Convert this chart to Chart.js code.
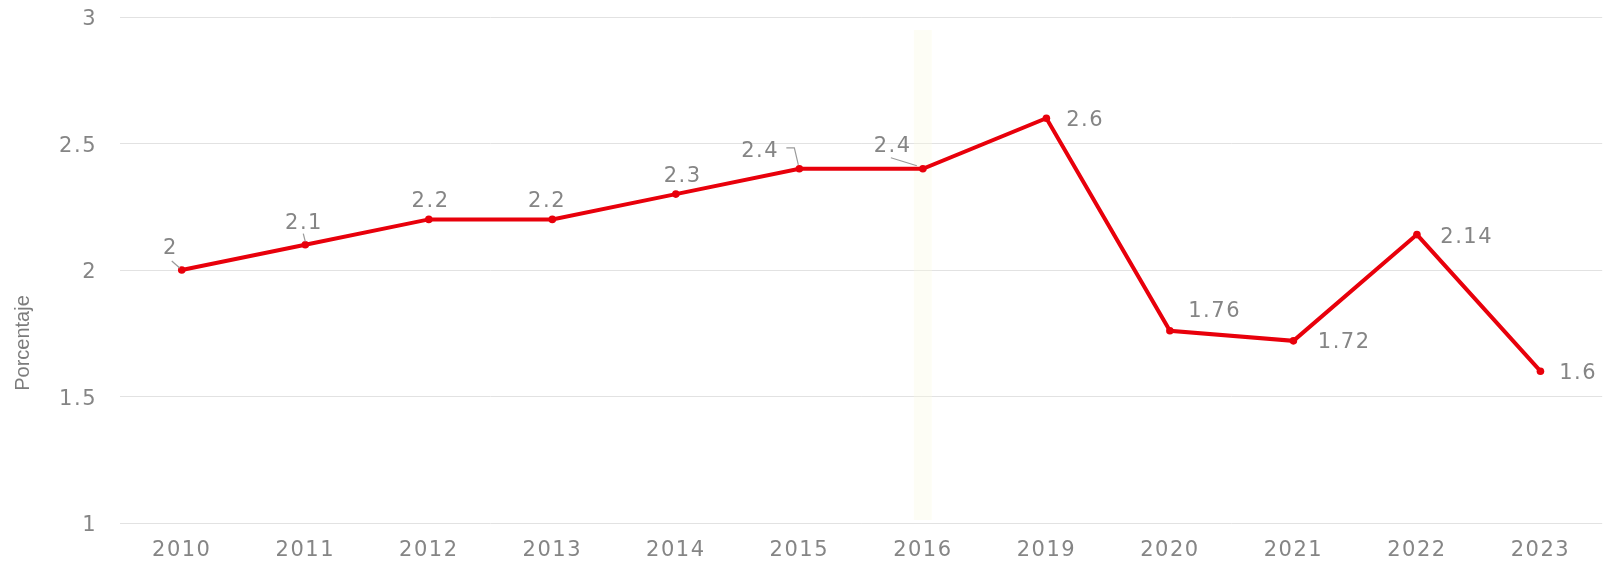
<!DOCTYPE html>
<html>
<head>
<meta charset="utf-8">
<script src="https://cdn.jsdelivr.net/npm/chart.js@4.4.1/dist/chart.umd.min.js"></script>
<style>
html,body{margin:0;padding:0;background:#fff;}
#wrap{width:1606px;height:561px;position:relative;}
</style>
</head>
<body>
<div id="wrap"><canvas id="c" width="1606" height="561"></canvas></div>
<script>
// ---- data ----
const categories = ['2010','2011','2012','2013','2014','2015','2016','2019','2020','2021','2022','2023'];
const values = [2, 2.1, 2.2, 2.2, 2.3, 2.4, 2.4, 2.6, 1.76, 1.72, 2.14, 1.6];
const yTicks = [1, 1.5, 2, 2.5, 3];
const yTitle = 'Porcentaje';

// label placement (offsets from point, in px) and leader lines
const labelPlacement = [
  {dx:-12, dy:-23, leader:[[-10,-9],[-2,-2]]},
  {dx:-2,  dy:-23, leader:[[-2,-11],[0,-3]]},
  {dx:1,   dy:-20},
  {dx:-6,  dy:-20},
  {dx:6,   dy:-20},
  {dx:-40, dy:-19, leader:[[-13,-21],[-5,-21],[-1,-4]]},
  {dx:-31, dy:-24, leader:[[-32,-11],[-6,-3]]},
  {dx:38,  dy:0},
  {dx:44,  dy:-21},
  {dx:50,  dy:0},
  {dx:49,  dy:1},
  {dx:37,  dy:0}
];

const FONT = '"DejaVu Sans", Arial, sans-serif';
const SPACING = '1.5px';
const TEXT_COLOR = '#858585';

const spacingPlugin = {
  id:'spacing',
  beforeDraw(chart){ chart.ctx.letterSpacing = SPACING; }
};

const labelPlugin = {
  id:'valueLabels',
  afterDatasetsDraw(chart){
    const ctx = chart.ctx;
    const meta = chart.getDatasetMeta(0);
    ctx.save();
    ctx.letterSpacing = SPACING;
    ctx.font = '21px ' + FONT;
    ctx.fillStyle = TEXT_COLOR;
    ctx.textAlign = 'center';
    ctx.textBaseline = 'middle';
    meta.data.forEach((pt, i) => {
      const p = labelPlacement[i];
      if (p.leader) {
        ctx.beginPath();
        ctx.strokeStyle = '#9a9a9a';
        ctx.lineWidth = 1.2;
        p.leader.forEach((q, k) => {
          const x = pt.x + q[0], y = pt.y + q[1];
          if (k === 0) ctx.moveTo(x, y); else ctx.lineTo(x, y);
        });
        ctx.stroke();
      }
      ctx.fillText(String(values[i]), pt.x + p.dx + 0.75, pt.y + p.dy + 2);
    });
    // y axis title
    ctx.letterSpacing = '0px';
    ctx.translate(23, 343);
    ctx.rotate(-Math.PI / 2);
    ctx.font = '20px "Liberation Sans Narrow", "Liberation Sans", Arial, sans-serif';
    ctx.fillStyle = '#7c7c7c';
    ctx.fillText(yTitle, 0, 0);
    ctx.restore();
  }
};

const bandPlugin = {
  id:'band',
  beforeDatasetsDraw(chart){
    const ctx = chart.ctx;
    const x = chart.scales.x.getPixelForValue(6);
    ctx.save();
    ctx.fillStyle = 'rgba(248,248,225,0.35)';
    ctx.fillRect(x - 9, 30, 18, 490);
    ctx.restore();
  }
};

new Chart(document.getElementById('c'), {
  type:'line',
  data:{
    labels: categories,
    datasets:[{
      data: values,
      borderColor:'#e8000b',
      backgroundColor:'#e8000b',
      borderWidth:4,
      pointRadius:3.8,
      pointHoverRadius:3.8,
      pointBackgroundColor:'#e8000b',
      pointBorderWidth:0,
      tension:0
    }]
  },
  options:{
    responsive:false,
    animation:false,
    devicePixelRatio:1,
    layout:{padding:{top:17,right:3,left:0,bottom:0}},
    plugins:{legend:{display:false},tooltip:{enabled:false}},
    scales:{
      x:{
        offset:true,
        grid:{display:false,drawTicks:false},
        border:{display:false},
        ticks:{color:TEXT_COLOR,font:{family:FONT,size:21},padding:15,maxRotation:0,autoSkip:false},
        afterFit(s){ s.height = 38; s.paddingLeft = 0; s.paddingRight = 0; }
      },
      y:{
        min:1, max:3,
        afterBuildTicks(s){ s.ticks = yTicks.map(v => ({value:v})); },
        grid:{color:'#e2e2e2',lineWidth:1,drawTicks:false},
        border:{display:false},
        ticks:{color:TEXT_COLOR,font:{family:FONT,size:21},padding:23,labelOffset:3,callback:v => String(v)},
        title:{display:false,text:yTitle},
        afterFit(s){ s.width = 120; s.paddingTop = 0; s.paddingBottom = 0; }
      }
    }
  },
  plugins:[spacingPlugin, bandPlugin, labelPlugin]
});
</script>
</body>
</html>
